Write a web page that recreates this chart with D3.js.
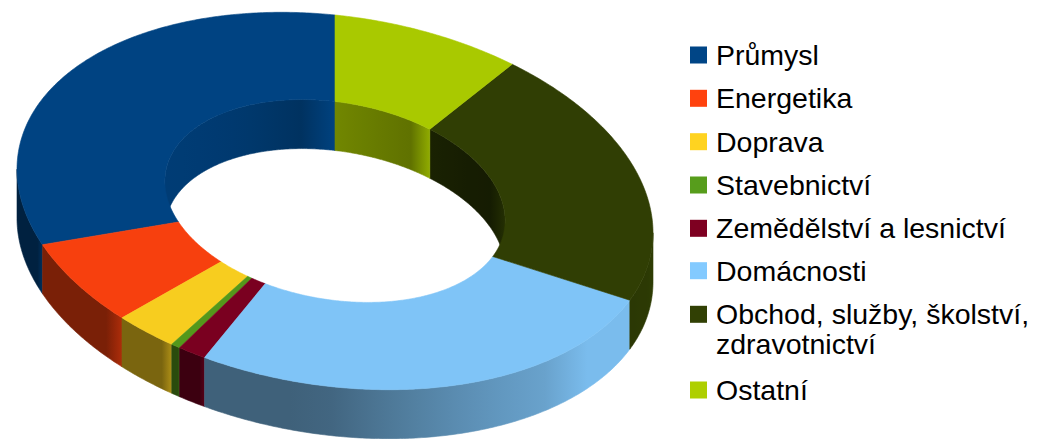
<!DOCTYPE html>
<html>
<head>
<meta charset="utf-8">
<script src="https://cdn.jsdelivr.net/npm/d3@7"></script>
<style>
  html, body { margin: 0; padding: 0; background: #ffffff; }
  svg { display: block; }
</style>
</head>
<body>
<svg id="chart" width="1038" height="439"></svg>
<script>
// ---- data ----
const categories = ["Průmysl", "Energetika", "Doprava", "Stavebnictví",
  "Zemědělství a lesnictví", "Domácnosti",
  "Obchod, služby, školství, zdravotnictví", "Ostatní"];
const values = [31.4, 6.9, 3.1, 0.45, 1.4, 25.6, 21.7, 9.4];
const colors = ["#004586", "#ff420e", "#ffd320", "#579d1c",
  "#7e0021", "#83caff", "#314004", "#aecf00"];
const legendLines = [["Průmysl"], ["Energetika"], ["Doprava"], ["Stavebnictví"],
  ["Zemědělství a lesnictví"], ["Domácnosti"],
  ["Obchod, služby, školství,", "zdravotnictví"], ["Ostatní"]];

// ---- geometry ----
const cx = 335, cy = 201, A = 318, B = 186, inner = 0.535, depth = 49;
const TAU = Math.PI * 2;
const shearAt = r => 0.1 + (1 - r) * 0.033;

function proj(t, r, z) {
  const s = Math.sin(t), c = Math.cos(t);
  return [cx + r * A * s, cy - r * B * c + shearAt(r) * r * A * s + z];
}
function arcPts(t0, t1, r, z) {
  const n = Math.max(2, Math.ceil(Math.abs(t1 - t0) / 0.01));
  return d3.range(n + 1).map(i => proj(t0 + (t1 - t0) * i / n, r, z));
}
const line = d3.line();

function shade(col, f) {
  const c = d3.rgb(col);
  return d3.rgb(Math.min(255, c.r * f), Math.min(255, c.g * f), Math.min(255, c.b * f)).formatHex();
}

const svg = d3.select("#chart");
const defs = svg.append("defs");
const gWalls = svg.append("g");
const gTop = svg.append("g");

const pie = d3.pie().sort(null).value(d => d).startAngle(0).endAngle(-TAU);
const arcs = pie(values).map((p, i) => ({
  i, lo: p.endAngle + TAU, hi: p.startAngle + TAU, color: colors[i]
}));

function intersect(lo, hi, a, b) {
  const s = Math.max(lo, a), e = Math.min(hi, b);
  return e > s ? [s, e] : null;
}

const outerLight = t => 0.48 + 0.42 * Math.max(0, Math.sin(t));
const innerLight = t => 0.65 - 0.22 * Math.sin(t);

let gid = 0;
function wall(seg, r, color, lightFn, hl, cap) {
  const [s, e] = seg;
  const top = arcPts(s, e, r, 0);
  const bot = arcPts(e, s, r, depth);
  const pts = top.concat(bot);
  const pS = proj(s, r, 0), pE = proj(e, r, 0);
  const left = pS[0] < pE[0] ? s : e, right = pS[0] < pE[0] ? e : s;
  const xl = Math.min(pS[0], pE[0]), xr = Math.max(pS[0], pE[0]);
  const id = "wg" + (gid++);
  const grad = defs.append("linearGradient").attr("id", id)
    .attr("gradientUnits", "userSpaceOnUse")
    .attr("x1", xl).attr("x2", xr).attr("y1", 0).attr("y2", 0);
  d3.range(0, 11).forEach(k => {
    const f = k / 10;
    const t = left + (right - left) * f;
    let b = lightFn(t);
    if (f > 0.8) b += hl * (f - 0.8) / 0.2;
    b = Math.min(cap, b);
    grad.append("stop").attr("offset", f).attr("stop-color", shade(color, b));
  });
  gWalls.append("path").attr("d", line(pts) + "Z")
    .attr("fill", `url(#${id})`).attr("stroke", `url(#${id})`).attr("stroke-width", 0.6);
}

// inner back walls (visible for theta in [0,90] and [270,360])
arcs.forEach(a => {
  [[0, Math.PI / 2], [1.5 * Math.PI, TAU]].forEach(([x0, x1]) => {
    const seg = intersect(a.lo, a.hi, x0, x1);
    if (seg) wall(seg, inner, a.color, innerLight, 0.3, 1);
  });
});
// outer front walls (theta in [90,270])
arcs.forEach(a => {
  const seg = intersect(a.lo, a.hi, Math.PI / 2, 1.5 * Math.PI);
  if (seg) wall(seg, 1, a.color, outerLight, 0.2, 0.93);
});

// top surfaces
arcs.forEach(a => {
  const pts = arcPts(a.lo, a.hi, 1, 0).concat(arcPts(a.hi, a.lo, inner, 0));
  const c = shade(a.color, 0.97);
  gTop.append("path").attr("d", line(pts) + "Z")
    .attr("fill", c).attr("stroke", c).attr("stroke-width", 0.6).attr("stroke-linejoin", "round");
});

// ---- legend ----
const lg = svg.append("g").attr("font-family", "'Liberation Sans', Arial, sans-serif")
  .attr("font-size", 28.5).attr("fill", "#000");
const rowY = [55, 98.3, 141.7, 185, 228.3, 270.7, 314.3, 390];
legendLines.forEach((lines, i) => {
  lg.append("rect").attr("x", 690).attr("y", rowY[i] - 8.5).attr("width", 17).attr("height", 17)
    .attr("fill", colors[i]);
  lines.forEach((txt, j) => {
    lg.append("text").attr("x", 716).attr("y", rowY[i] + 10 + j * 30).text(txt);
  });
});
</script>
</body>
</html>
